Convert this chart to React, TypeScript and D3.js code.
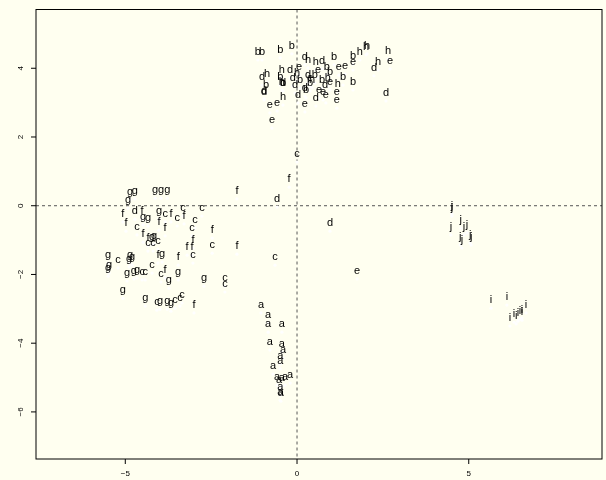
import React from "react";
import * as d3 from "d3";

const xTicks = [-5, 0, 5];
const yTicks = [-6, -4, -2, 0, 2, 4];

const groupA = [[-1.05,-3.12],[-0.84,-3.41],[-0.84,-3.68],[-0.44,-3.68],[-0.79,-4.20],[-0.44,-4.26],[-0.41,-4.43],[-0.49,-4.61],[-0.49,-4.75],[-0.70,-4.90],[-0.58,-5.22],[-0.44,-5.25],[-0.35,-5.22],[-0.20,-5.16],[-0.52,-5.31],[-0.49,-5.51],[-0.49,-5.66],[-0.47,-5.69]];
const groupB = [[-1.14,4.24],[-1.02,4.24],[-0.49,4.30],[-0.15,4.42],[1.08,4.10],[1.63,4.12],[0.87,3.80],[-0.49,3.51],[-0.41,3.34],[-0.90,3.28],[1.63,3.37],[1.34,3.51],[0.26,3.14],[0.09,3.43],[0.52,3.57],[0.73,3.43],[0.96,3.66],[0.38,3.34]];
const groupC = [[-4.66,-0.85],[-3.84,-0.47],[-3.49,-0.59],[-4.34,-1.32],[-4.19,-1.32],[-4.05,-1.26],[-5.21,-1.81],[-4.51,-2.16],[-4.42,-2.16],[-4.22,-1.96],[-3.96,-2.22],[-4.08,-3.04],[-3.55,-2.98],[-3.41,-2.92],[-3.32,-0.30],[-2.77,-0.30],[-2.97,-0.65],[-3.06,-0.88],[-3.03,-1.67],[-2.47,-1.38],[-2.10,-2.34],[-2.10,-2.51],[-3.35,-2.83],[0.00,1.27],[-0.64,-1.73]];
const groupD = [[0.23,4.10],[0.73,3.98],[-0.20,3.72],[-1.02,3.51],[-0.12,3.48],[-0.06,3.28],[-0.41,3.34],[-0.96,3.08],[-0.96,3.11],[0.23,3.19],[0.55,2.90],[2.24,3.78],[2.59,3.05],[-0.58,-0.04],[0.96,-0.74],[0.32,3.57],[0.82,3.28],[0.03,2.99],[-4.72,-0.39]];
const groupE = [[0.06,3.80],[1.22,3.80],[1.40,3.83],[1.63,3.95],[2.71,3.98],[0.64,3.14],[0.76,3.08],[1.16,3.08],[1.16,2.84],[-0.79,2.70],[-0.58,2.76],[0.23,2.73],[-0.73,2.26],[1.75,-2.13],[0.38,3.48],[0.61,3.72],[0.96,3.37],[0.84,2.99]];
const groupF = [[-5.07,-0.47],[-4.51,-0.39],[-4.98,-0.74],[-3.67,-0.47],[-4.02,-0.71],[-3.84,-0.88],[-4.48,-1.06],[-4.34,-1.17],[-4.05,-1.67],[-3.46,-1.73],[-3.84,-2.10],[-3.29,-0.53],[-2.47,-0.94],[-3.03,-1.23],[-3.20,-1.44],[-3.06,-1.44],[-1.75,-1.41],[-3.00,-3.12],[-1.75,0.20],[-0.23,0.54]];
const groupG = [[-4.86,0.17],[-4.72,0.20],[-4.92,-0.07],[-4.13,0.22],[-3.96,0.22],[-3.78,0.22],[-4.48,-0.56],[-4.34,-0.59],[-4.02,-0.39],[-4.22,-1.14],[-4.16,-1.11],[-5.50,-1.67],[-5.47,-1.96],[-5.50,-2.05],[-4.86,-1.67],[-4.80,-1.73],[-4.89,-1.78],[-3.93,-1.64],[-4.95,-2.19],[-4.75,-2.13],[-4.66,-2.10],[-3.73,-2.40],[-3.46,-2.16],[-5.07,-2.69],[-4.42,-2.92],[-3.99,-3.01],[-3.78,-3.01],[-3.67,-3.07],[-2.71,-2.34]];
const groupH = [[0.32,4.01],[0.55,3.95],[-0.44,3.72],[0.00,3.63],[-0.87,3.60],[-0.44,3.37],[-0.41,2.93],[1.83,4.24],[2.01,4.39],[2.04,4.42],[2.65,4.27],[2.36,3.95],[0.44,3.43],[0.90,3.48],[1.19,3.31]];
const groupI = [[5.65,-2.98],[6.11,-2.89],[6.20,-3.50],[6.32,-3.39],[6.43,-3.36],[6.49,-3.30],[6.55,-3.27],[6.67,-3.12],[6.38,-3.44],[6.55,-3.33]];
const groupJ = [[4.51,-0.24],[4.51,-0.30],[4.48,-0.85],[4.77,-0.65],[4.86,-0.85],[4.95,-0.79],[4.75,-1.14],[4.80,-1.23],[5.04,-1.09],[5.07,-1.14]];

const groupNames = ["a", "b", "c", "d", "e", "f", "g", "h", "i", "j"];
const groups = [groupA, groupB, groupC, groupD, groupE, groupF, groupG, groupH, groupI, groupJ];

const W = 606, H = 480;
const left = 36, right = 602, top = 9.5, bottom = 459;

export default function App() {
  const sx = d3.scaleLinear().domain([-7.6, 8.88]).range([left, right]);
  const sy = d3.scaleLinear().domain([5.71, -7.37]).range([top, bottom]);
  const pts = groups.flatMap((g, gi) => g.map(([x, y]) => ({ x, y, label: groupNames[gi] })));
  const font = "'Liberation Sans', Arial, sans-serif";
  const gray = { filter: "grayscale(1)" };
  return (
    <div style={{ position: "fixed", left: 0, top: 0, background: "#fffff0" }}>
      <svg width={W} height={H} style={{ display: "block" }}>
        <rect x={0} y={0} width={W} height={H} fill="#fffff0" />
        <line x1={left} x2={right} y1={sy(0)} y2={sy(0)} stroke="#555" strokeDasharray="3,3" />
        <line x1={sx(0)} x2={sx(0)} y1={top} y2={bottom} stroke="#555" strokeDasharray="3,3" />
        {pts.map((p, i) => (
          <circle key={"c" + i} cx={sx(p.x)} cy={sy(p.y)} r={1.6} fill="#ffffff" />
        ))}
        <g style={gray}>
          {pts.map((p, i) => (
            <text key={"t" + i} x={sx(p.x)} y={sy(p.y) - 5} textAnchor="middle" fontSize={11} fontFamily={font} fill="#000">
              {p.label}
            </text>
          ))}
        </g>
        <rect x={left} y={top} width={right - left} height={bottom - top} fill="none" stroke="#000" strokeWidth={1} />
        <g style={gray}>
          {xTicks.map((t) => (
            <g key={"x" + t}>
              <line x1={sx(t)} x2={sx(t)} y1={bottom} y2={bottom + 5} stroke="#000" />
              <text x={sx(t)} y={bottom + 17} textAnchor="middle" fontSize={8} fontFamily={font}>
                {t < 0 ? "\u2212" + Math.abs(t) : String(t)}
              </text>
            </g>
          ))}
          {yTicks.map((t) => (
            <g key={"y" + t}>
              <line x1={left - 5} x2={left} y1={sy(t)} y2={sy(t)} stroke="#000" />
              <text transform={`translate(${left - 13},${sy(t)}) rotate(-90)`} textAnchor="middle" fontSize={8} fontFamily={font}>
                {t < 0 ? "\u2212" + Math.abs(t) : String(t)}
              </text>
            </g>
          ))}
        </g>
      </svg>
    </div>
  );
}
